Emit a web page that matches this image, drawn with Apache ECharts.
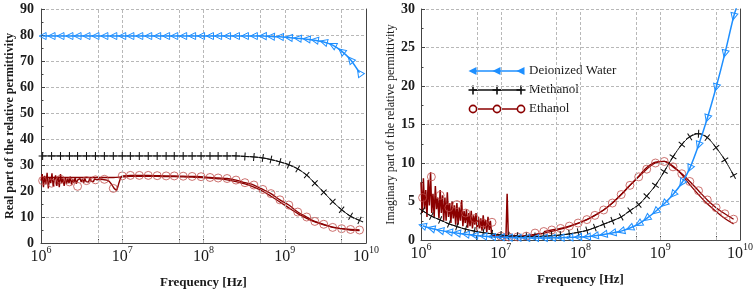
<!DOCTYPE html>
<html><head><meta charset="utf-8">
<script src="https://cdn.jsdelivr.net/npm/echarts@6/dist/echarts.min.js"></script>
<style>html,body{margin:0;padding:0;background:#fff}#c{width:756px;height:296px}</style>
</head><body><div id="c"></div>
<script>
// ---------- data (x = log10 of frequency in Hz) ----------
const logF = [6.02,6.13,6.24,6.35,6.45,6.56,6.67,6.78,6.89,7.00,7.10,7.21,7.32,7.43,7.54,7.64,7.75,7.86,7.97,8.08,8.18,8.29,8.40,8.51,8.62,8.73,8.83,8.94,9.05,9.16,9.27,9.37,9.48,9.59,9.70,9.81,9.92];
const xLabelExps = [6,7,8,9,10];
const xTickValues = [6,6.699,7,7.699,8,8.699,9,9.699,10];
const xGridValues = [6.699,7,7.699,8,8.699,9,9.699];

// real part
const waterRe = [79.6,79.6,79.6,79.6,79.6,79.6,79.6,79.6,79.6,79.6,79.6,79.6,79.6,79.6,79.6,79.6,79.6,79.6,79.6,79.6,79.6,79.6,79.6,79.6,79.6,79.6,79.4,79.3,79.0,78.7,78.4,78.0,77.3,76.1,73.8,70.5,65.5];
const methRe = [33.5,33.5,33.5,33.5,33.5,33.5,33.5,33.5,33.5,33.5,33.5,33.5,33.5,33.5,33.5,33.5,33.5,33.5,33.5,33.5,33.5,33.5,33.5,33.3,33.1,32.7,32.1,31.2,30.1,28.5,26.1,23.0,19.5,15.9,12.8,10.3,8.7];
const ethReCircles = [24.0,23.0,24.5,23.5,21.8,24.0,24.3,24.5,21.0,25.8,26.0,26.0,26.0,25.9,25.8,25.8,25.7,25.6,25.5,25.2,25.0,24.8,24.2,23.2,22.3,20.6,19.0,16.6,14.6,11.9,10.0,8.3,7.2,6.0,5.5,5.2,5.0];
const ethReModel = [25.2,25.2,25.2,25.2,25.2,25.2,25.2,25.2,25.2,25.4,25.6,25.6,25.6,25.6,25.5,25.5,25.4,25.3,25.2,25.0,24.7,24.3,23.6,22.7,21.5,19.9,18.0,15.8,13.5,11.3,9.5,8.1,7.0,6.1,5.5,5.0,4.8];
const ethReNoiseStart = 6.0, ethReNoiseStep = 0.015;
const ethReNoise = [24,26.5,21.5,25.8,22.5,27,21,25,23,26.8,21.8,24.5,26,22,25.5,21.5,26.5,23,24.8,22,
  25,22.8,24.8,23,25.5,22.5,24.5,23.2,25,22.8,24.2,23.5,24.8,
  23.5,24.6,23.2,24.8,23.6,24.2,23.4,24.9,23.8,24.4,23.6,24.7,24,24.3,23.8,24.6,24.1,24.5,24,24.3,23.9,24.2,23.9,23.7,23.2,
  22.5,21.8,21,20.4,20.2,21.5,23.2,24.6,25.5,25.8];

// imaginary part
const waterIm = [1.85,1.5,1.25,1.05,0.9,0.75,0.6,0.5,0.42,0.37,0.33,0.3,0.28,0.27,0.27,0.28,0.3,0.33,0.38,0.42,0.55,0.72,0.92,1.15,1.55,2.1,2.8,3.7,4.7,5.9,7.4,9.3,12.3,15.8,19.8,24.2,29.0];
const waterImTail = [9.97, 30.6];
const methIm = [3.8,3.1,2.6,2.1,1.75,1.4,1.15,0.95,0.8,0.65,0.55,0.5,0.45,0.45,0.5,0.55,0.65,0.8,1.0,1.25,1.6,2.05,2.5,3.0,3.8,4.6,5.7,7.1,8.9,10.8,12.4,13.4,13.8,13.3,12.0,10.4,8.4];
const ethImCircles = [5.5,8.2,5.8,4.2,4.6,3.5,2.8,2.2,2.3,0.5,0.4,0.4,0.5,0.9,1.1,1.3,1.5,1.8,2.2,2.65,3.2,3.9,4.8,5.9,7.1,8.2,9.2,10.0,10.2,9.5,8.6,7.6,6.4,5.2,4.2,3.4,2.7];
const ethImModel = [null,null,null,null,null,null,null,null,null,0.4,0.42,0.48,0.58,0.72,0.9,1.12,1.4,1.75,2.15,2.65,3.2,3.9,4.8,5.9,7.1,8.3,9.4,10.1,10.2,9.6,8.5,7.2,5.9,4.7,3.7,2.8,2.1];
const ethImNoiseStart = 6.0, ethImNoiseStep = 0.015;
const ethImNoise = [7.5,3.5,8.0,4.0,6.5,3.0,7.8,4.5,8.8,3.5,
  6.0,3.0,7.0,4.0,5.5,2.8,6.5,3.5,5.8,2.5,
  5.5,2.5,6.2,3.0,4.8,2.2,5.0,2.8,4.5,2.0,
  4.8,2.0,4.2,2.5,5.2,1.8,3.8,2.2,4.0,1.6,
  3.5,1.8,3.8,1.5,3.2,2.0,3.5,1.2,3.0,1.5,
  2.8,1.2,3.2,1.4,2.6,1.0,3.0,1.3,2.5,
  0.8,0.4,0.7,0.3,0.6,0.4,0.7,0.3,0.5,0.6,0.3,0.5,0.3,6.0,0.4,
  0.5,0.3,0.6,0.4,0.5,0.3,0.6,0.4,0.5,0.4,0.5,0.3,0.5,0.4,0.6,0.4,0.5,0.5,0.6,0.5,0.6,0.6,0.7,0.7,0.8,0.8];

const legendNames = ['Deionized Water','Methanol','Ethanol'];

// ---------- helpers ----------
const FONT = '"Liberation Serif","Times New Roman",serif';
const BLUE = '#1e8fff', BLACK = '#111111', RED = '#8b0000', RED2 = '#c0504d', AX = '#444444', GRIDC = '#b8b8b8';
const PLUS = 'path://M4.35,0H5.65V4.35H10V5.65H5.65V10H4.35V5.65H0V4.35H4.35Z';
function pairs(xs, ys, from) { const o = []; for (let i = from || 0; i < xs.length; i++) if (ys[i] != null) o.push([xs[i], ys[i]]); return o; }
function noisePairs(start, step, vals) { return vals.map((v, i) => [+(start + i * step).toFixed(4), v]); }

const chart = echarts.init(document.getElementById('c'));

function xAxis(gi) {
  return {
    type: 'value', gridIndex: gi, min: 6, max: 10, interval: 1,
    axisLine: { show: true, onZero: false, lineStyle: { color: AX, width: 1 } },
    axisTick: { show: true, inside: true, length: 4, customValues: xTickValues, lineStyle: { color: AX } },
    axisLabel: {
      margin: 2, customValues: xLabelExps,
      formatter: v => '{b|10}{s|' + Math.round(v) + '}',
      rich: {
        b: { fontFamily: FONT, fontSize: 16, color: '#1a1a1a', lineHeight: 20, verticalAlign: 'bottom' },
        s: { fontFamily: FONT, fontSize: 10, color: '#1a1a1a', lineHeight: 20, verticalAlign: 'top' }
      }
    },
    splitLine: { show: false },
    name: 'Frequency [Hz]', nameLocation: 'middle', nameGap: 33,
    nameTextStyle: { fontFamily: FONT, fontSize: 13, fontWeight: 'bold', color: '#1a1a1a' }
  };
}
function yAxis(gi, max, interval, name, bold, margin) {
  return {
    type: 'value', gridIndex: gi, min: 0, max: max, interval: interval,
    axisLine: { show: true, lineStyle: { color: AX } },
    axisTick: { show: true, inside: true, length: 4, lineStyle: { color: AX } },
    minorTick: { show: true, splitNumber: 2, length: 2.5, lineStyle: { color: AX } },
    axisLabel: { fontFamily: FONT, fontSize: 14, fontWeight: 'bold', color: '#1a1a1a', margin: margin },
    splitLine: { show: true, lineStyle: { color: GRIDC, type: [3, 2], width: 1 } },
    name: name, nameLocation: 'middle', nameGap: 23,
    nameTextStyle: { fontFamily: FONT, fontSize: 12, fontWeight: bold ? 'bold' : 'normal', color: '#1a1a1a' }
  };
}
function yBorder(gi, max) {
  return { type: 'value', gridIndex: gi, position: 'right', min: 0, max: max,
    axisLine: { show: true, lineStyle: { color: AX } }, axisTick: { show: false }, axisLabel: { show: false }, splitLine: { show: false } };
}
function gridLinesSeries(xi, yi) {
  return { type: 'line', xAxisIndex: xi, yAxisIndex: yi, data: [[6, 0]], symbol: 'none', lineStyle: { width: 0 }, silent: true, z: 1,
    markLine: { silent: true, symbol: ['none', 'none'], label: { show: false }, animation: false,
      lineStyle: { color: GRIDC, type: [3, 2], width: 1 }, data: xGridValues.map(v => ({ xAxis: v })) } };
}
function measLine(id, xi, yi, data, color, width, smooth) {
  return { id, type: 'line', xAxisIndex: xi, yAxisIndex: yi, data, symbol: 'none', smooth: smooth, z: 3,
    lineStyle: { color, width } };
}
function circles(id, xi, yi, data) {
  return { id, type: 'scatter', xAxisIndex: xi, yAxisIndex: yi, data, symbol: 'circle', symbolSize: 8, z: 4,
    itemStyle: { color: 'rgba(255,255,255,0)', borderColor: RED2, borderWidth: 1 } };
}
function plusLine(id, xi, yi, data) {
  return { id, type: 'line', xAxisIndex: xi, yAxisIndex: yi, data, smooth: 0.3, symbol: PLUS, symbolSize: 8,
    showSymbol: true, showAllSymbol: true, z: 5, lineStyle: { color: BLACK, width: 1 }, itemStyle: { color: BLACK } };
}
function triLine(id, xi, yi, data) {
  return { id, type: 'line', xAxisIndex: xi, yAxisIndex: yi, data, smooth: 0.3, symbol: 'triangle', symbolSize: 7, symbolRotate: 90,
    showSymbol: true, showAllSymbol: true, z: 6, lineStyle: { color: BLUE, width: 1.5 },
    itemStyle: { color: 'rgba(255,255,255,0)', borderColor: BLUE, borderWidth: 1 } };
}

// legend (drawn with graphic elements)
function legendRow(y, kind, color, label) {
  const xs = [473, 497, 521];
  const ch = [{ type: 'line', shape: { x1: 473, y1: y, x2: 521, y2: y }, style: { stroke: color, lineWidth: 1.6 } }];
  xs.forEach(x => {
    if (kind === 'tri') ch.push({ type: 'polygon', shape: { points: [[x - 4.5, y], [x + 3.5, y - 4], [x + 3.5, y + 4]] }, style: { fill: color } });
    if (kind === 'plus') { ch.push({ type: 'line', shape: { x1: x - 4.5, y1: y, x2: x + 4.5, y2: y }, style: { stroke: color, lineWidth: 1.6 } });
                           ch.push({ type: 'line', shape: { x1: x, y1: y - 4.5, x2: x, y2: y + 4.5 }, style: { stroke: color, lineWidth: 1.6 } }); }
    if (kind === 'circ') ch.push({ type: 'circle', shape: { cx: x, cy: y, r: 3.6 }, style: { fill: '#fff', stroke: color, lineWidth: 1.6 } });
  });
  ch.push({ type: 'text', style: { text: label, x: 529, y: y, verticalAlign: 'middle', font: '13px "Liberation Serif", serif', fill: '#1a1a1a' } });
  return { type: 'group', children: ch, z: 100 };
}

const option = {
  animation: false,
  backgroundColor: '#fff',
  grid: [ { left: 41, right: 390, top: 9, bottom: 53 }, { left: 421, right: 13, top: 9, bottom: 56 } ],
  xAxis: [ xAxis(0), xAxis(1) ],
  yAxis: [ yAxis(0, 90, 10, 'Real part of the relative permittivity', true, 7), yBorder(0, 90),
           yAxis(1, 30, 5, 'Imaginary part of the relative permittivity', false, 6), yBorder(1, 30) ],
  graphic: [ legendRow(71, 'tri', BLUE, legendNames[0]), legendRow(90, 'plus', BLACK, legendNames[1]), legendRow(109, 'circ', RED, legendNames[2]) ],
  series: [
    gridLinesSeries(0, 0), gridLinesSeries(1, 2),
    // left: real part
    measLine('ethReNoise', 0, 0, noisePairs(ethReNoiseStart, ethReNoiseStep, ethReNoise), RED, 1.4, false),
    measLine('ethReModel', 0, 0, pairs(logF, ethReModel), RED, 1.3, 0.3),
    measLine('ethReMeas', 0, 0, pairs(logF, ethReCircles, 9), RED, 1.3, 0.3),
    circles('ethReCirc', 0, 0, pairs(logF, ethReCircles)),
    plusLine('methRe', 0, 0, pairs(logF, methRe)),
    triLine('waterRe', 0, 0, pairs(logF, waterRe)),
    // right: imaginary part
    measLine('ethImNoise', 1, 2, noisePairs(ethImNoiseStart, ethImNoiseStep, ethImNoise), RED, 1.5, false),
    measLine('ethImModel', 1, 2, pairs(logF, ethImModel), RED, 1.3, 0.3),
    measLine('ethImMeas', 1, 2, pairs(logF, ethImCircles, 14), RED, 1.3, 0.3),
    circles('ethImCirc', 1, 2, pairs(logF, ethImCircles)),
    plusLine('methIm', 1, 2, pairs(logF, methIm)),
    triLine('waterIm', 1, 2, pairs(logF, waterIm).concat([{ value: waterImTail, symbol: 'none' }]))
  ]
};
chart.setOption(option);

// rotate markers along the local tangent of each curve (as in the original plot)
function rotItems(xs, ys, finder, base) {
  const px = xs.map((x, i) => chart.convertToPixel(finder, [x, ys[i]]));
  return xs.map((x, i) => {
    const a = px[Math.max(0, i - 1)], b = px[Math.min(xs.length - 1, i + 1)];
    const ang = Math.atan2(-(b[1] - a[1]), b[0] - a[0]) * 180 / Math.PI;
    return { value: [x, ys[i]], symbolRotate: base + ang };
  });
}
const fL = { xAxisIndex: 0, yAxisIndex: 0 }, fR = { xAxisIndex: 1, yAxisIndex: 2 };
chart.setOption({ series: [
  { id: 'methRe', data: rotItems(logF, methRe, fL, 0) },
  { id: 'waterRe', data: rotItems(logF, waterRe, fL, 90) },
  { id: 'methIm', data: rotItems(logF, methIm, fR, 0) },
  { id: 'waterIm', data: rotItems(logF, waterIm, fR, 90).concat([{ value: waterImTail, symbol: 'none' }]) }
] });
</script>
</body></html>
